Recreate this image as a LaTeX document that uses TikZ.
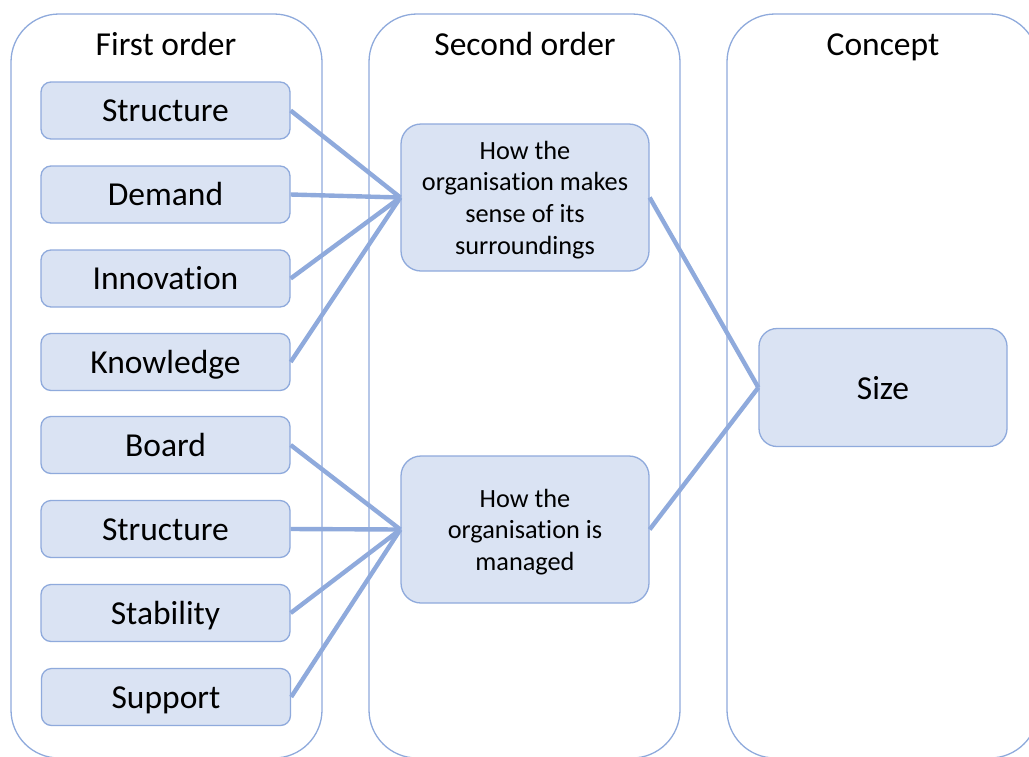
\documentclass[tikz,border=0pt]{standalone}
\usepackage{fontspec}
\setmainfont[Ligatures=NoCommon]{Carlito}
\definecolor{edgeblue}{HTML}{8FAADC}
\definecolor{boxfill}{HTML}{DAE3F3}
\tikzset{
  column/.style={draw=edgeblue, line width=1.3pt, rounded corners=48pt},
  header/.style={anchor=base, font=\fontsize{33.5}{40}\selectfont},
  itembox/.style={draw=edgeblue, fill=boxfill, line width=1.3pt, rounded corners=10pt,
    minimum width=249pt, minimum height=57pt, inner sep=0pt, text height=22pt, text depth=0pt,
    font=\fontsize{33.5}{40}\selectfont},
  groupbox/.style={draw=edgeblue, fill=boxfill, line width=1.3pt, rounded corners=20pt,
    minimum width=248pt, minimum height=147pt, inner sep=0pt, align=center, text depth=0pt,
    font=\fontsize{26.3}{31.6}\selectfont},
  conceptbox/.style={draw=edgeblue, fill=boxfill, line width=1.3pt, rounded corners=18pt,
    minimum width=248pt, minimum height=118pt, inner sep=0pt, text height=23pt, text depth=0pt,
    font=\fontsize{33.5}{40}\selectfont},
  link/.style={draw=edgeblue, line width=4.4pt},
}
\begin{document}
\begin{tikzpicture}[x=1pt,y=-1pt]
  \useasboundingbox (0,0) rectangle (1029,756);
  \clip (0,0) rectangle (1029,756);
  \fill[white] (0,0) rectangle (1029,756);

  % three columns, open at the bottom edge
  \draw[column] (11,14) rectangle (322,758);
  \draw[column] (369,14) rectangle (680,758);
  \draw[column] (727,14) rectangle (1038,758);

  \node[header] (h1) at (166,55) {First order};
  \node[header] (h2) at (525,55) {Second order};
  \node[header] (h3) at (883,55) {Concept};

  % first-order items
  \node[itembox] (f1) at (165.5,110.5) {Structure};
  \node[itembox] (f2) at (165.5,194.5) {Demand};
  \node[itembox] (f3) at (165.5,278.5) {Innovation};
  \node[itembox] (f4) at (165.5,362) {Knowledge};
  \node[itembox] (f5) at (165.5,445) {Board};
  \node[itembox] (f6) at (165.5,529) {Structure};
  \node[itembox] (f7) at (165.5,613) {Stability};
  \node[itembox] (f8) at (166,697) {Support};

  % second-order groups
  \node[groupbox] (s1) at (525,197.5) {How the\\organisation makes\\sense of its\\surroundings};
  \node[groupbox] (s2) at (525,529.5) {How the\\organisation is\\managed};

  % concept
  \node[conceptbox] (c) at (883,387.5) {Size};

  % links
  \foreach \f in {f1,f2,f3,f4} \draw[link] (\f.east) -- (s1.west);
  \foreach \f in {f5,f6,f7,f8} \draw[link] (\f.east) -- (s2.west);
  \draw[link] (s1.east) -- (c.west);
  \draw[link] (s2.east) -- (c.west);
\end{tikzpicture}
\end{document}
